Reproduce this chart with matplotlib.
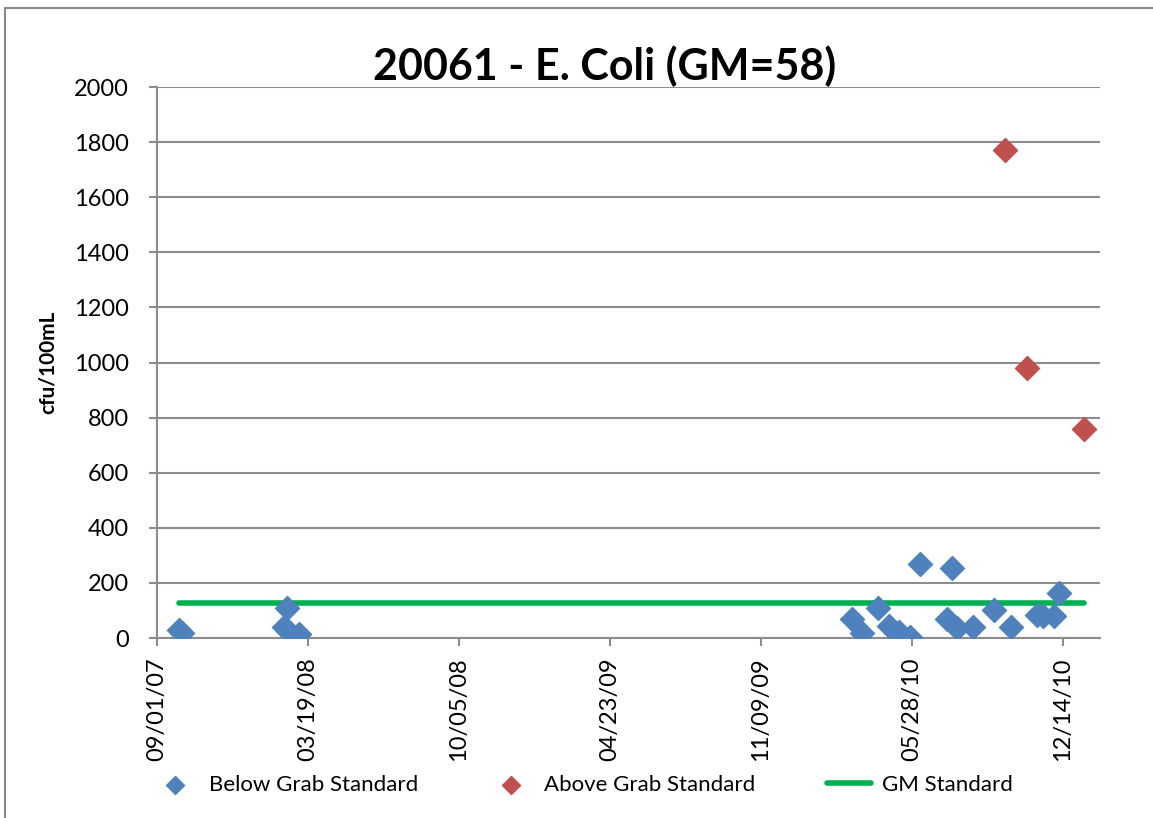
import pandas as pd
import matplotlib.pyplot as plt
import matplotlib.dates as mdates
from matplotlib.patches import Rectangle

# E. coli samples for station 20061
below_dates = ["2007-10-01", "2007-10-04", "2008-02-16", "2008-02-20", "2008-02-22",
               "2008-03-07", "2010-03-09", "2010-03-23", "2010-04-13", "2010-04-27",
               "2010-05-11", "2010-05-25", "2010-06-08", "2010-07-13", "2010-07-20",
               "2010-07-27", "2010-08-17", "2010-09-14", "2010-10-06", "2010-11-09",
               "2010-11-18", "2010-12-02", "2010-12-09"]
below_vals = [30, 20, 40, 110, 25, 15, 68, 17, 110, 44, 23, 5, 269, 69, 255, 37, 41,
              102, 41, 83, 80, 80, 162]
above_dates = ["2010-09-28", "2010-10-28", "2011-01-11"]
above_vals = [1770, 980, 760]
gm_standard = 126

below = pd.DataFrame({"date": pd.to_datetime(below_dates), "val": below_vals})
above = pd.DataFrame({"date": pd.to_datetime(above_dates), "val": above_vals})
first_date = below["date"].min()
last_date = above["date"].max()

plt.rcParams["font.family"] = ["Lato", "DejaVu Sans"]

fig = plt.figure(figsize=(11.53, 8.18), dpi=100)
ax = fig.add_axes([0.136, 0.22, 0.818, 0.6736])
fig.patches.append(Rectangle((0.004, -0.01), 1.1, 1.0, transform=fig.transFigure,
                             fill=False, edgecolor="#898989", linewidth=1.5))

ax.scatter(below["date"], below["val"], marker="D", s=150, color="#4F81BD",
           label="Below Grab Standard", zorder=3)
ax.scatter(above["date"], above["val"], marker="D", s=150, color="#C0504D",
           label="Above Grab Standard", zorder=3)
ax.plot([first_date, last_date], [gm_standard, gm_standard], color="#00B050",
        linewidth=4, solid_capstyle="round", label="GM Standard", zorder=2)

start = pd.Timestamp("2007-09-01")
ax.set_xlim(start, start + pd.Timedelta(days=1249))
ax.set_xticks([start + pd.Timedelta(days=200 * i) for i in range(7)])
ax.xaxis.set_major_formatter(mdates.DateFormatter("%m/%d/%y"))
ax.set_ylim(0, 2000)
ax.set_yticks(range(0, 2001, 200))
ax.yaxis.grid(True, color="#8c8c8c", linewidth=1.5)
ax.set_axisbelow(True)

for s in ["top", "right"]:
    ax.spines[s].set_visible(False)
for s in ["left", "bottom"]:
    ax.spines[s].set_color("#8c8c8c")
    ax.spines[s].set_linewidth(1.5)
ax.tick_params(axis="both", color="#8c8c8c", width=1.5, length=6, labelsize=17)
ax.tick_params(axis="y", pad=14)
ax.tick_params(axis="x", labelrotation=90, pad=8)

ax.set_ylabel("cfu/100mL", fontsize=15, fontweight="bold", labelpad=12)
ax.set_title("20061 - E. Coli (GM=58)", fontsize=31, fontweight="bold", pad=3, x=0.475)

ax.legend(loc="upper center", bbox_to_anchor=(0.452, -0.212), ncol=3, frameon=False,
          fontsize=16, handlelength=2.0, columnspacing=3.2, handletextpad=0.5,
          markerscale=0.75)

fig.savefig("out.png", dpi=100)
